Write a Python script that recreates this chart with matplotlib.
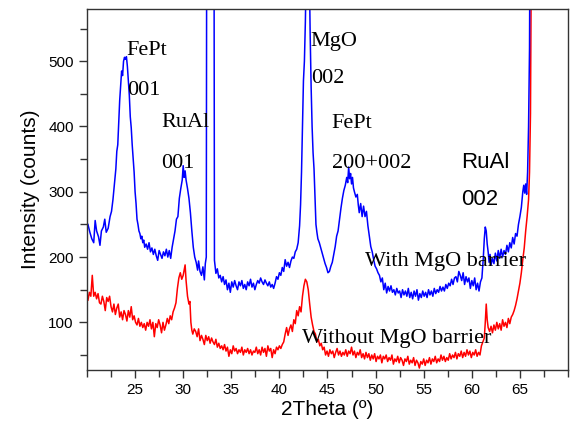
"""
XRD patterns of the FePt stack with and without the MgO barrier.
Writes out.png (570x428 px).
"""
import matplotlib
matplotlib.use("Agg")
import matplotlib.pyplot as plt
from matplotlib.ticker import MultipleLocator

# --- data (2theta in degrees, intensity in counts) ---
# with MgO barrier
blue_x = [
    20.1, 20.3, 20.5, 20.7, 20.85, 21.0, 21.2, 21.35, 21.5, 21.7, 21.85, 22.0,
    22.2, 22.4, 22.55, 22.7, 22.85, 23.0, 23.1, 23.2, 23.3, 23.4, 23.5, 23.6,
    23.7, 23.8, 23.9, 24.0, 24.1, 24.2, 24.3, 24.4, 24.5, 24.6, 24.7, 24.8,
    24.9, 25.0, 25.1, 25.2, 25.3, 25.4, 25.5, 25.6, 25.7, 25.8, 25.9, 26.0,
    26.15, 26.3, 26.45, 26.6, 26.75, 26.9, 27.05, 27.2, 27.35, 27.5, 27.65, 27.8,
    27.95, 28.1, 28.25, 28.4, 28.55, 28.7, 28.85, 29.0, 29.15, 29.3, 29.45, 29.6,
    29.75, 29.9, 30.0, 30.1, 30.2, 30.3, 30.45, 30.6, 30.75, 30.9, 31.05, 31.2,
    31.35, 31.5, 31.6, 31.75, 31.9, 32.05, 32.2, 32.3, 32.4, 32.82, 33.25, 33.4,
    33.55, 33.7, 33.85, 34.0, 34.15, 34.3, 34.45, 34.6, 34.75, 34.9, 35.05, 35.2,
    35.35, 35.5, 35.65, 35.8, 35.95, 36.1, 36.25, 36.4, 36.55, 36.7, 36.85, 37.0,
    37.15, 37.3, 37.45, 37.6, 37.75, 37.9, 38.05, 38.2, 38.35, 38.5, 38.65, 38.8,
    38.95, 39.1, 39.25, 39.4, 39.55, 39.7, 39.85, 40.0, 40.15, 40.3, 40.45, 40.6,
    40.75, 40.9, 41.05, 41.2, 41.35, 41.5, 41.65, 41.8, 41.95, 42.1, 42.2, 42.3,
    42.4, 42.5, 42.6, 42.7, 42.8, 42.95, 43.1, 43.2, 43.3, 43.4, 43.5, 43.6,
    43.7, 43.8, 43.9, 44.0, 44.15, 44.3, 44.45, 44.6, 44.75, 44.9, 45.05, 45.2,
    45.35, 45.5, 45.65, 45.8, 45.95, 46.1, 46.25, 46.4, 46.55, 46.7, 46.85, 47.0,
    47.1, 47.2, 47.3, 47.4, 47.5, 47.6, 47.7, 47.8, 47.95, 48.1, 48.2, 48.3,
    48.45, 48.6, 48.75, 48.9, 49.05, 49.2, 49.35, 49.5, 49.65, 49.8, 49.95, 50.1,
    50.25, 50.4, 50.55, 50.7, 50.85, 51.0, 51.15, 51.3, 51.45, 51.6, 51.75, 51.9,
    52.05, 52.2, 52.35, 52.5, 52.65, 52.8, 52.95, 53.1, 53.25, 53.4, 53.55, 53.7,
    53.85, 54.0, 54.15, 54.3, 54.45, 54.6, 54.75, 54.9, 55.05, 55.2, 55.35, 55.5,
    55.65, 55.8, 55.95, 56.1, 56.25, 56.4, 56.55, 56.7, 56.85, 57.0, 57.15, 57.3,
    57.45, 57.6, 57.75, 57.9, 58.05, 58.2, 58.35, 58.5, 58.65, 58.8, 58.95, 59.1,
    59.25, 59.4, 59.55, 59.7, 59.85, 60.0, 60.15, 60.3, 60.45, 60.6, 60.75, 60.9,
    61.05, 61.2, 61.3, 61.4, 61.5, 61.6, 61.7, 61.8, 61.9, 62.0, 62.15, 62.3,
    62.45, 62.6, 62.75, 62.9, 63.05, 63.2, 63.35, 63.5, 63.65, 63.8, 63.95, 64.1,
    64.25, 64.4, 64.55, 64.7, 64.85, 65.0, 65.15, 65.3, 65.4, 65.5, 65.6, 65.7,
    65.8, 65.9, 66.0, 66.1, 66.2,
]
blue_y = [
    250, 238, 228, 222, 256, 240, 231, 218, 240, 246, 258, 238,
    244, 262, 270, 288, 312, 335, 362, 372, 405, 440, 462, 485,
    478, 500, 506, 503, 507, 492, 470, 448, 415, 398, 372, 352,
    330, 300, 282, 258, 250, 240, 236, 228, 232, 222, 226, 215,
    220, 212, 222, 208, 214, 204, 212, 202, 195, 210, 204, 198,
    208, 202, 212, 200, 210, 198, 215, 228, 240, 258, 262, 290,
    305, 318, 340, 322, 332, 318, 305, 290, 268, 240, 215, 200,
    192, 180, 194, 178, 172, 185, 165, 190, 200, 5000, 195, 175,
    182, 168, 172, 162, 170, 158, 165, 150, 160, 146, 162, 154,
    164, 156, 150, 162, 156, 164, 152, 158, 150, 162, 156, 166,
    154, 160, 150, 158, 164, 160, 168, 162, 158, 165, 160, 156,
    162, 154, 158, 152, 160, 170, 166, 176, 172, 184, 178, 196,
    186, 192, 184, 194, 200, 198, 208, 212, 222, 248, 280, 330,
    400, 470, 500, 560, 650, 1100, 650, 540, 460, 400, 360, 335,
    290, 250, 238, 228, 222, 214, 206, 198, 190, 184, 176, 178,
    186, 192, 204, 216, 232, 240, 258, 275, 290, 302, 310, 322,
    314, 338, 320, 328, 312, 322, 306, 300, 292, 296, 280, 268,
    282, 262, 278, 262, 270, 248, 232, 216, 208, 196, 186, 182,
    176, 172, 162, 168, 150, 160, 145, 155, 148, 156, 146, 150,
    142, 152, 145, 148, 138, 150, 142, 148, 140, 152, 138, 146,
    136, 148, 140, 150, 134, 144, 138, 148, 140, 146, 138, 150,
    142, 148, 140, 152, 144, 150, 146, 155, 148, 154, 148, 158,
    152, 160, 156, 166, 158, 168, 170, 162, 178, 172, 164, 176,
    158, 170, 162, 168, 152, 164, 156, 168, 150, 160, 148, 162,
    168, 200, 228, 246, 240, 220, 208, 192, 204, 188, 198, 190,
    206, 194, 210, 198, 212, 200, 210, 204, 218, 208, 222, 214,
    230, 220, 236, 232, 250, 262, 276, 300, 310, 298, 312, 296,
    330, 400, 520, 900, 2000,
]

# without MgO barrier
red_x = [
    20.1, 20.25, 20.4, 20.55, 20.7, 20.85, 21.0, 21.15, 21.3, 21.45, 21.6, 21.75,
    21.9, 22.05, 22.2, 22.35, 22.5, 22.65, 22.8, 22.95, 23.1, 23.25, 23.4, 23.55,
    23.7, 23.85, 24.0, 24.15, 24.3, 24.45, 24.6, 24.75, 24.9, 25.05, 25.2, 25.35,
    25.5, 25.65, 25.8, 25.95, 26.1, 26.25, 26.4, 26.55, 26.7, 26.85, 27.0, 27.15,
    27.3, 27.45, 27.6, 27.75, 27.9, 28.05, 28.2, 28.35, 28.5, 28.65, 28.8, 28.95,
    29.1, 29.25, 29.4, 29.55, 29.7, 29.85, 30.0, 30.1, 30.2, 30.3, 30.45, 30.6,
    30.7, 30.8, 30.9, 31.0, 31.15, 31.3, 31.45, 31.6, 31.75, 31.9, 32.05, 32.2,
    32.35, 32.5, 32.65, 32.8, 32.95, 33.1, 33.25, 33.4, 33.55, 33.7, 33.85, 34.0,
    34.15, 34.3, 34.45, 34.6, 34.75, 34.9, 35.05, 35.2, 35.35, 35.5, 35.65, 35.8,
    35.95, 36.1, 36.25, 36.4, 36.55, 36.7, 36.85, 37.0, 37.15, 37.3, 37.45, 37.6,
    37.75, 37.9, 38.05, 38.2, 38.35, 38.5, 38.65, 38.8, 38.95, 39.1, 39.25, 39.4,
    39.55, 39.7, 39.85, 40.0, 40.15, 40.3, 40.45, 40.6, 40.75, 40.9, 41.05, 41.2,
    41.35, 41.5, 41.65, 41.8, 41.95, 42.1, 42.25, 42.4, 42.55, 42.7, 42.85, 43.0,
    43.15, 43.3, 43.45, 43.6, 43.75, 43.9, 44.05, 44.2, 44.35, 44.5, 44.65, 44.8,
    44.95, 45.1, 45.25, 45.4, 45.55, 45.7, 45.85, 46.0, 46.15, 46.3, 46.45, 46.6,
    46.75, 46.9, 47.05, 47.2, 47.35, 47.5, 47.65, 47.8, 47.95, 48.1, 48.25, 48.4,
    48.55, 48.7, 48.85, 49.0, 49.15, 49.3, 49.45, 49.6, 49.75, 49.9, 50.05, 50.2,
    50.35, 50.5, 50.65, 50.8, 50.95, 51.1, 51.25, 51.4, 51.55, 51.7, 51.85, 52.0,
    52.15, 52.3, 52.45, 52.6, 52.75, 52.9, 53.05, 53.2, 53.35, 53.5, 53.65, 53.8,
    53.95, 54.1, 54.25, 54.4, 54.55, 54.7, 54.85, 55.0, 55.15, 55.3, 55.45, 55.6,
    55.75, 55.9, 56.05, 56.2, 56.35, 56.5, 56.65, 56.8, 56.95, 57.1, 57.25, 57.4,
    57.55, 57.7, 57.85, 58.0, 58.15, 58.3, 58.45, 58.6, 58.75, 58.9, 59.05, 59.2,
    59.35, 59.5, 59.65, 59.8, 59.95, 60.1, 60.25, 60.4, 60.55, 60.7, 60.85, 61.0,
    61.15, 61.3, 61.4, 61.5, 61.6, 61.7, 61.85, 62.0, 62.15, 62.3, 62.45, 62.6,
    62.75, 62.9, 63.05, 63.2, 63.35, 63.5, 63.65, 63.8, 63.95, 64.1, 64.25, 64.4,
    64.55, 64.7, 64.85, 65.0, 65.15, 65.3, 65.45, 65.6, 65.75, 65.9, 66.0, 66.1,
    66.2, 66.3,
]
red_y = [
    134, 146, 140, 172, 140, 146, 136, 144, 130, 128, 140, 132,
    118, 138, 132, 140, 124, 116, 128, 112, 122, 128, 108, 116,
    104, 118, 112, 102, 118, 108, 124, 104, 110, 100, 96, 106,
    94, 100, 92, 98, 88, 100, 94, 104, 90, 100, 78, 98,
    92, 104, 96, 84, 100, 88, 96, 106, 98, 110, 104, 116,
    122, 130, 152, 168, 176, 166, 172, 180, 188, 164, 140, 128,
    132, 100, 88, 82, 90, 86, 78, 90, 72, 80, 74, 66,
    80, 72, 78, 68, 76, 70, 66, 74, 62, 68, 60, 64,
    58, 66, 56, 62, 48, 58, 52, 64, 56, 60, 52, 58,
    54, 62, 50, 58, 54, 60, 52, 58, 50, 56, 54, 62,
    52, 58, 50, 62, 54, 60, 48, 64, 56, 60, 46, 58,
    52, 62, 58, 64, 60, 66, 70, 82, 92, 80, 90, 96,
    86, 104, 98, 118, 110, 124, 116, 140, 156, 166, 162, 150,
    128, 108, 96, 86, 82, 70, 74, 64, 68, 58, 62, 50,
    56, 48, 58, 52, 56, 46, 54, 60, 50, 56, 48, 54,
    50, 58, 48, 56, 52, 62, 50, 56, 46, 54, 50, 58,
    46, 52, 44, 54, 46, 52, 42, 50, 44, 52, 40, 48,
    44, 50, 38, 48, 44, 50, 40, 46, 42, 50, 36, 44,
    40, 48, 38, 46, 42, 34, 44, 40, 48, 36, 42, 38,
    46, 34, 42, 38, 30, 40, 36, 44, 34, 42, 38, 46,
    36, 44, 40, 48, 38, 44, 40, 50, 42, 48, 40, 46,
    42, 52, 44, 50, 46, 54, 44, 52, 48, 56, 46, 54,
    48, 58, 50, 56, 46, 54, 50, 58, 48, 54, 50, 64,
    70, 76, 100, 128, 104, 92, 86, 94, 84, 96, 88, 100,
    90, 98, 88, 104, 94, 100, 92, 106, 98, 108, 112, 118,
    126, 136, 148, 160, 176, 196, 214, 240, 262, 288, 330, 420,
    700, 2000,
]

SERIF = "Liberation Serif"
SANS = "Liberation Sans"

# peak labels: (text, x, y, family) in data coordinates, baseline anchored
peak_labels = [
    ("FePt", 24.1, 509, SERIF),
    ("001", 24.2, 448, SERIF),
    ("RuAl", 27.75, 399, SERIF),
    ("001", 27.75, 337, SERIF),
    ("MgO", 43.25, 524, SERIF),
    ("002", 43.25, 466, SERIF),
    ("FePt", 45.45, 397, SERIF),
    ("200+002", 45.45, 337, SERIF),
    ("RuAl", 58.9, 336, SANS),
    ("002", 58.9, 279, SANS),
    ("With MgO barrier", 48.95, 187, SERIF),
    ("Without MgO barrier", 42.3, 69, SERIF),
]

plt.rcParams["font.family"] = SANS

fig = plt.figure(figsize=(5.7, 4.28), dpi=100)
ax = fig.add_axes([0.1526, 0.1355, 0.8439, 0.8435])

ax.plot(red_x, red_y, color="#ff0000", linewidth=1.1)
ax.plot(blue_x, blue_y, color="#0000ff", linewidth=1.1)

for text, x, y, fam in peak_labels:
    ax.text(x, y, text, family=fam, fontsize=16, va="baseline", ha="left",
            color="black")

ax.set_xlim(20, 70)
ax.set_ylim(27, 580)
ax.xaxis.set_major_locator(MultipleLocator(5))
ax.xaxis.set_minor_locator(MultipleLocator(2.5))
ax.yaxis.set_major_locator(MultipleLocator(100))
ax.yaxis.set_minor_locator(MultipleLocator(50))
ax.set_xticks([25, 30, 35, 40, 45, 50, 55, 60, 65])
ax.set_yticks([100, 200, 300, 400, 500])
ax.tick_params(which="both", direction="out", labelsize=11, width=1.0,
               color="#333333")
ax.tick_params(which="major", length=6)
ax.tick_params(which="minor", length=5)
for s in ax.spines.values():
    s.set_color("#333333")
    s.set_linewidth(1.0)

ax.set_xlabel("2Theta (º)", fontsize=15, labelpad=2)
ax.set_ylabel("Intensity (counts)", fontsize=15, labelpad=6)

fig.savefig("out.png", dpi=100)
